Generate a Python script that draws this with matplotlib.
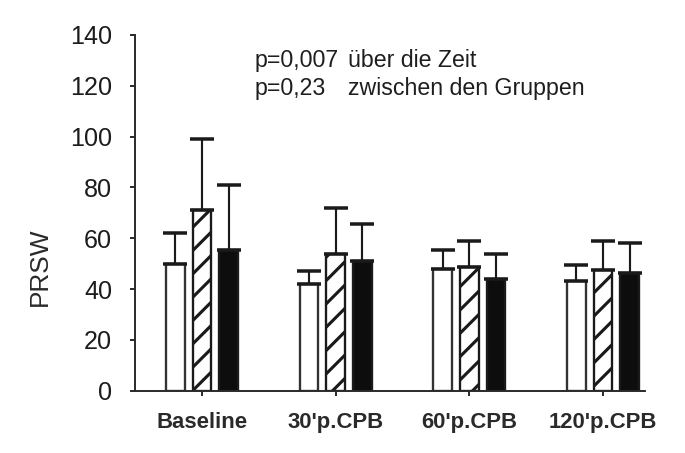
import matplotlib
matplotlib.use("Agg")
import matplotlib.pyplot as plt
import numpy as np

# Pressure-recruitable stroke work per time point and group
categories = ["Baseline", "30'p.CPB", "60'p.CPB", "120'p.CPB"]
group_open = [50, 42, 48, 43]
group_hatched = [71, 54, 48.5, 47.5]
group_solid = [55.5, 51, 44, 46.5]
sd_open = [12, 5, 7.5, 6.5]
sd_hatched = [28, 18, 10.5, 11.5]
sd_solid = [25.5, 14.5, 10, 11.5]
y_ticks = [0, 20, 40, 60, 80, 100, 120, 140]

DPI = 140
W, H = 685, 453
plt.rcParams["font.family"] = ["Liberation Sans", "DejaVu Sans"]
plt.rcParams["hatch.linewidth"] = 1.6

fig = plt.figure(figsize=(W / DPI, H / DPI), dpi=DPI)
fig.patch.set_facecolor("white")

# axes box in pixel units
left, right, top, bottom = 135, 645, 35, 390.7
ax = fig.add_axes([left / W, (H - bottom) / H, (right - left) / W, (bottom - top) / H])

x = np.arange(len(categories))
offset = 0.2
width = 0.14
ink = "#1a1a1a"
err_kw = dict(ecolor=ink, elinewidth=1.1, capsize=6.0, capthick=1.8)

ax.bar(x - offset, group_open, width, color="white", edgecolor="#333333",
       linewidth=1.2, yerr=[np.zeros(4), sd_open], error_kw=err_kw, zorder=2)
ax.bar(x, group_hatched, width, color="white", edgecolor=ink, hatch="//",
       linewidth=1.2, yerr=[np.zeros(4), sd_hatched], error_kw=err_kw, zorder=2)
ax.bar(x + offset, group_solid, width, color="#0d0d0d", edgecolor=ink,
       linewidth=1.2, yerr=[np.zeros(4), sd_solid], error_kw=err_kw, zorder=2)

ax.set_xlim((left - 202) / 133.7, (right - 202) / 133.7)
ax.set_ylim(0, 140)
ax.set_yticks(y_ticks)
ax.set_yticklabels([str(v) for v in y_ticks], fontsize=12.9, color="#1c1c1c")
ax.set_xticks(x)
ax.set_xticklabels(categories, fontsize=11.4, fontweight="bold", color="#2a2a2a")

for side in ("top", "right"):
    ax.spines[side].set_visible(False)
for side in ("left", "bottom"):
    ax.spines[side].set_color("#2a2a2a")
    ax.spines[side].set_linewidth(1.0)

ax.tick_params(axis="y", direction="out", length=2.8, width=1.0, color="#2a2a2a", pad=9)
ax.tick_params(axis="x", direction="out", length=2.8, width=1.0, color="#2a2a2a", pad=8)

ax.set_ylabel("PRSW", fontsize=13.5, color="#2a2a2a")
ax.yaxis.label.set_va("center")
ax.yaxis.set_label_coords((40 - left) / (right - left), (bottom - 267) / (bottom - top))


def fig_xy(px, py):
    return px / W, 1 - py / H


txt = dict(fontsize=11.9, color="#1e1e1e", va="baseline", ha="left")
fig.text(*fig_xy(255, 67), "p=0,007", **txt)
fig.text(*fig_xy(348, 67), "über die Zeit", **txt)
fig.text(*fig_xy(255, 95), "p=0,23", **txt)
fig.text(*fig_xy(348, 95), "zwischen den Gruppen", **txt)

fig.savefig("out.png", dpi=DPI, facecolor="white")
